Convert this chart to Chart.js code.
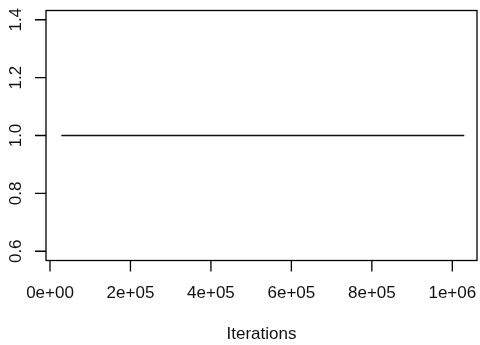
<!DOCTYPE html>
<html>
<head>
<meta charset="utf-8">
<script src="https://cdn.jsdelivr.net/npm/chart.js@4/dist/chart.umd.min.js"></script>
<style>
  html, body { margin: 0; padding: 0; background: #fff; }
  canvas { display: block; }
</style>
</head>
<body>
<canvas id="c" width="480" height="345"></canvas>
<script>
// Trace of the sampled value across iterations
const iterations = [28100, 1029800];
const values = [1, 1];

// Axis ticks and labels
const xTicks = [0, 200000, 400000, 600000, 800000, 1000000];
const xTickLabels = ['0e+00', '2e+05', '4e+05', '6e+05', '8e+05', '1e+06'];
const yTicks = [0.6, 0.8, 1.0, 1.2, 1.4];
const yTickLabels = ['0.6', '0.8', '1.0', '1.2', '1.4'];
const xTitle = 'Iterations';

const FONT = '17px "Liberation Sans", Arial, Helvetica, sans-serif';

// Base-graphics style frame: box, outward ticks, rotated y labels
const framePlugin = {
  id: 'frame',
  afterDraw(chart) {
    const ctx = chart.ctx;
    const a = chart.chartArea;
    const xs = chart.scales.x, ys = chart.scales.y;
    ctx.save();
    ctx.strokeStyle = '#000';
    ctx.lineWidth = 1.3;
    ctx.strokeRect(a.left, a.top, a.right - a.left, a.bottom - a.top);

    // x axis ticks
    ctx.beginPath();
    xTicks.forEach(v => {
      const px = xs.getPixelForValue(v);
      ctx.moveTo(px, a.bottom);
      ctx.lineTo(px, a.bottom + 11);
    });
    // y axis ticks
    yTicks.forEach(v => {
      const py = ys.getPixelForValue(v);
      ctx.moveTo(a.left, py);
      ctx.lineTo(a.left - 11, py);
    });
    ctx.stroke();

    ctx.fillStyle = '#111';
    ctx.font = FONT;
    ctx.textAlign = 'center';
    ctx.textBaseline = 'middle';
    xTicks.forEach((v, i) => {
      ctx.fillText(xTickLabels[i], xs.getPixelForValue(v), 293);
    });
    yTicks.forEach((v, i) => {
      ctx.save();
      ctx.translate(16, ys.getPixelForValue(v));
      ctx.rotate(-Math.PI / 2);
      ctx.fillText(yTickLabels[i], 0, 0);
      ctx.restore();
    });
    ctx.fillText(xTitle, (a.left + a.right) / 2, 334);
    ctx.restore();
  }
};

new Chart(document.getElementById('c'), {
  type: 'scatter',
  data: {
    datasets: [{
      data: iterations.map((x, i) => ({ x: x, y: values[i] })),
      showLine: true,
      borderColor: '#111',
      borderWidth: 1.4,
      pointRadius: 0,
      fill: false
    }]
  },
  options: {
    responsive: false,
    devicePixelRatio: 1,
    animation: false,
    layout: { padding: { left: 46, right: 3, top: 10.5, bottom: 84.5 } },
    plugins: { legend: { display: false }, tooltip: { enabled: false } },
    scales: {
      x: { type: 'linear', min: -9943, max: 1061400, display: false },
      y: { type: 'linear', min: 0.568, max: 1.432, display: false }
    }
  },
  plugins: [framePlugin]
});
</script>
</body>
</html>
